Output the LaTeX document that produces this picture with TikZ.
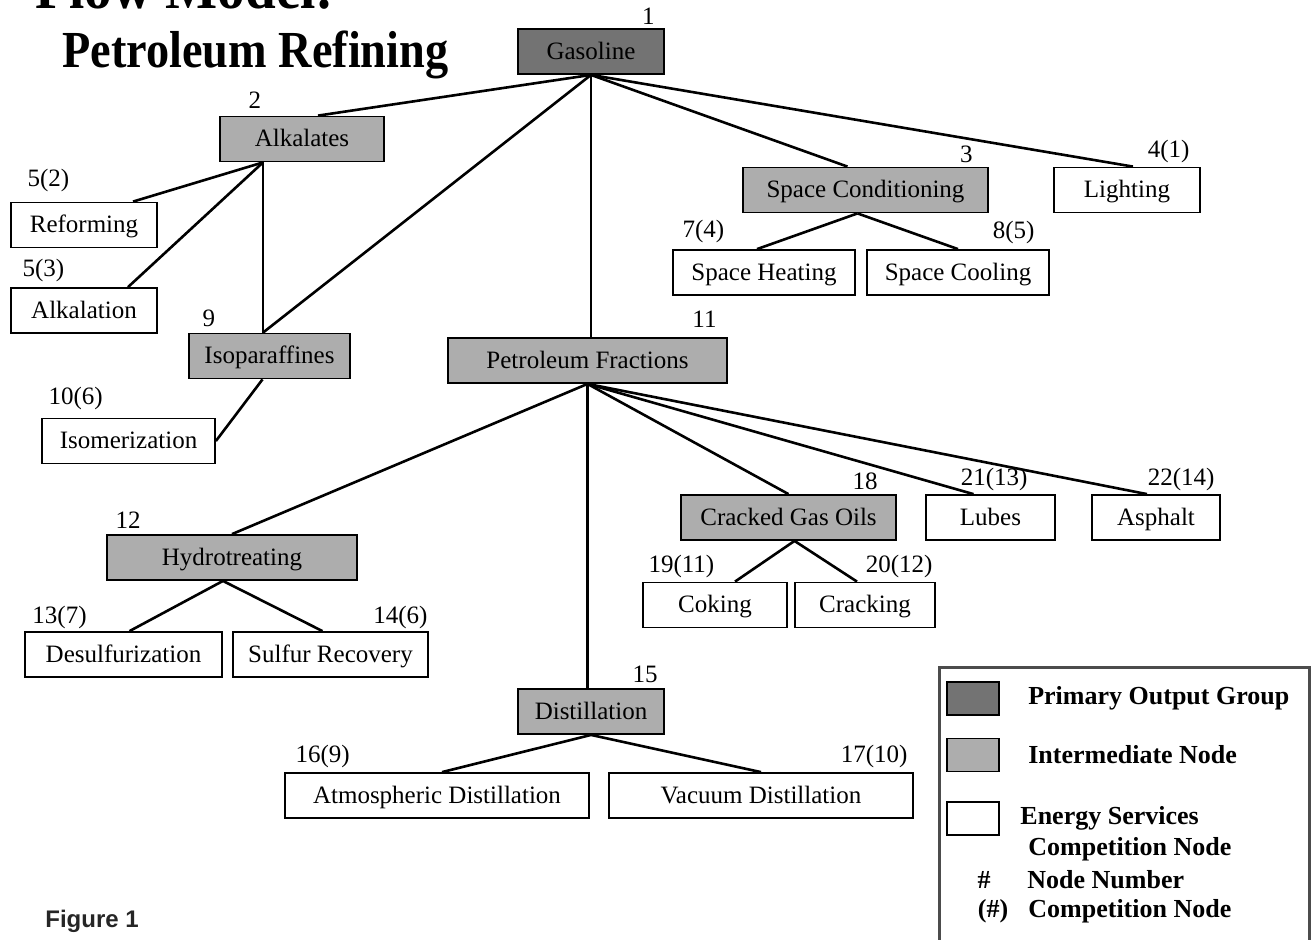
\documentclass[tikz,border=0pt]{standalone}
\usepackage{fontspec}
\setmainfont{Liberation Serif}
\newfontfamily\figfont{Liberation Sans}
\usetikzlibrary{positioning,calc}

\begin{document}
\begin{tikzpicture}[x=0.5pt, y=-0.5pt,
  every node/.style={font=\fontsize{12.5}{14}\selectfont},
  svcbox/.style={draw, rectangle, line width=0.9pt, minimum height=22.5pt, inner sep=2pt,
    text height=9pt, text depth=1.5pt},
  midbox/.style={svcbox, fill=black!32},
  outbox/.style={svcbox, fill=black!55},
  num/.style={inner sep=0.5pt},
  link/.style={line width=1.3pt},
  heading/.style={font=\fontsize{26}{28}\selectfont\bfseries, inner sep=0pt},
  legframe/.style={draw=black!70, line width=1.6pt, rectangle},
  legtxt/.style={font=\fontsize{13}{15}\selectfont\bfseries, inner sep=0pt}
]
\useasboundingbox (0,0) rectangle (1311,939);

% Titel
\node[heading, font=\fontsize{30}{32}\selectfont\bfseries, anchor=base west] (flow) at (35,8) {\scalebox{0.92}[1]{Flow Model:}};
\node[heading, anchor=base west] (petro) at (62,67) {\scalebox{0.89}[1]{Petroleum Refining}};

% Gasoline-Zweig
\node[outbox, minimum width=73pt] (gas) at (591,51.5) {Gasoline};
\node[midbox, minimum width=82pt] (alk) at (302,139) {Alkalates};
\node[midbox, minimum width=122.5pt] (spc) at (865.5,190) {Space Conditioning};
\node[svcbox, minimum width=73pt] (lig) at (1127,190) {Lighting};
\node[svcbox, minimum width=73pt] (ref) at (84,225) {Reforming};
\node[svcbox, minimum width=73pt] (alkn) at (84,310.5) {Alkalation};
\node[svcbox, minimum width=91pt] (sph) at (764,272.5) {Space Heating};
\node[svcbox, minimum width=91pt] (spco) at (958,272.5) {Space Cooling};
\node[midbox, minimum width=80.5pt] (iso) at (269.5,356) {Isoparaffines};
\node[svcbox, minimum width=86.5pt] (isom) at (128.5,441) {Isomerization};

% Petroleum Fractions
\node[midbox, minimum width=139.5pt] (pf) at (587.5,360.5) {Petroleum Fractions};
\node[midbox, minimum width=125pt] (hyd) at (232,557.5) {Hydrotreating};
\node[midbox, minimum width=107.5pt] (cgo) at (788.5,517.5) {Cracked Gas Oils};
\node[svcbox, minimum width=64.5pt] (lub) at (990.5,517.5) {Lubes};
\node[svcbox, minimum width=64pt] (asp) at (1156,517.5) {Asphalt};
\node[svcbox, minimum width=72pt] (cok) at (715,605) {Coking};
\node[svcbox, minimum width=70pt] (crk) at (865,605) {Cracking};
\node[svcbox, minimum width=98.5pt] (des) at (123.5,654.5) {Desulfurization};
\node[svcbox, minimum width=97.5pt] (sul) at (330.5,654.5) {Sulfur Recovery};
\node[midbox, minimum width=73pt] (dis) at (591,711.5) {Distillation};
\node[svcbox, minimum width=152pt] (atm) at (437,795.5) {Atmospheric Distillation};
\node[svcbox, minimum width=152pt] (vac) at (761,795.5) {Vacuum Distillation};

% Knotennummern
\node[num, above left=1pt and 4.5pt of gas.north east] (n1) {1};
\node[num, above right=3pt and 14pt of alk.north west] (n2) {2};
\node[num, above left=1pt and 7.5pt of spc.north east] (n3) {3};
\node[num, above left=1pt and 5pt of lig.north east] (n4) {4(1)};
\node[num, above right=4pt and 8pt of ref.north west] (n5a) {5(2)};
\node[num, above right=2pt and 5.5pt of alkn.north west] (n5b) {5(3)};
\node[num, above right=2.5pt and 4.5pt of sph.north west] (n7) {7(4)};
\node[num, above left=2pt and 7pt of spco.north east] (n8) {8(5)};
\node[num, above right=2pt and 6.5pt of iso.north west] (n9) {9};
\node[num, above left=4pt and 5pt of pf.north east] (n11) {11};
\node[num, above right=3pt and 3pt of isom.north west] (n10) {10(6)};
\node[num, above right=2pt and 4pt of hyd.north west] (n12) {12};
\node[num, above left=1.5pt and 9pt of cgo.north east] (n18) {18};
\node[num, above left=1pt and 13.5pt of lub.north east] (n21) {21(13)};
\node[num, above left=1pt and 2.5pt of asp.north east] (n22) {22(14)};
\node[num, above right=1pt and 2.5pt of cok.north west] (n19) {19(11)};
\node[num, above left=1pt and 1pt of crk.north east] (n20) {20(12)};
\node[num, above right=0.5pt and 3.5pt of des.north west] (n13) {13(7)};
\node[num, above left=0.5pt and 0pt of sul.north east] (n14) {14(6)};
\node[num, above left=2pt and 3pt of dis.north east] (n15) {15};
\node[num, above right=1.5pt and 5pt of atm.north west] (n16) {16(9)};
\node[num, above left=1.5pt and 2.5pt of vac.north east] (n17) {17(10)};

% Verbindungen
\coordinate (alkfoot) at ([xshift=-19.5pt]alk.south);
\coordinate (isohead) at (alkfoot |- iso.north);
\draw[link] (gas.south) -- ([xshift=8pt]alk.north);
\draw[link] (gas.south) -- (isohead);
\draw[link] (gas.south) -- (gas.south |- pf.north);
\draw[link] (gas.south) -- ([xshift=-9pt]spc.north);
\draw[link] (gas.south) -- ([xshift=3pt]lig.north);
\draw[link] (alkfoot) -- ([xshift=24.5pt]ref.north);
\draw[link] (alkfoot) -- ([xshift=22pt]alkn.north);
\draw[link] (alkfoot) -- (isohead);
\draw[link] ([xshift=-3.5pt]iso.south) -- (isom.east);
\draw[link] ([xshift=-4pt]spc.south) -- ([xshift=-3.5pt]sph.north);
\draw[link] ([xshift=-4pt]spc.south) -- (spco.north);
\draw[link] (pf.south) -- (hyd.north);
\draw[link] (pf.south) -- (pf.south |- dis.north);
\draw[link] (pf.south) -- (cgo.north);
\draw[link] (pf.south) -- ([xshift=-8.5pt]lub.north);
\draw[link] (pf.south) -- ([xshift=-4.5pt]asp.north);
\draw[link] ([xshift=-4.5pt]hyd.south) -- ([xshift=3pt]des.north);
\draw[link] ([xshift=-4.5pt]hyd.south) -- ([xshift=-4pt]sul.north);
\draw[link] ([xshift=3pt]cgo.south) -- ([xshift=10pt]cok.north);
\draw[link] ([xshift=3pt]cgo.south) -- ([xshift=-4pt]crk.north);
\draw[link] (dis.south) -- ([xshift=2.5pt]atm.north);
\draw[link] (dis.south) -- (vac.north);

% Legende
\node[legframe, anchor=north west, minimum width=185pt, minimum height=160pt] (legend) at (938,666) {};
\node[outbox, minimum width=26pt, minimum height=16.5pt] (keyout) at (973,698.5) {};
\node[midbox, minimum width=26pt, minimum height=16.5pt] (keymid) at (973,755) {};
\node[svcbox, minimum width=26pt, minimum height=16.5pt] (keysvc) at (973,818.5) {};
\node[legtxt, right=14pt of keyout] (tout) {Primary Output Group};
\node[legtxt, right=14pt of keymid] (tmid) {Intermediate Node};
\node[legtxt, anchor=west] (tsvc) at (1020,818) {Energy Services};
\node[legtxt, anchor=west] (tsvc2) at (1028,849) {Competition Node};
\node[legtxt] (thash) at (984,880) {\#};
\node[legtxt, anchor=west] (tnum) at (1027,880) {Node Number};
\node[legtxt] (tpar) at (993,911) {(\#)};
\node[legtxt, anchor=west] (tcomp) at (1028,911) {Competition Node};

\node[anchor=base west, font=\figfont\fontsize{12}{14}\selectfont\bfseries, text=black!85, inner sep=0pt] (fig) at (45,927) {Figure 1};
\end{tikzpicture}
\end{document}
